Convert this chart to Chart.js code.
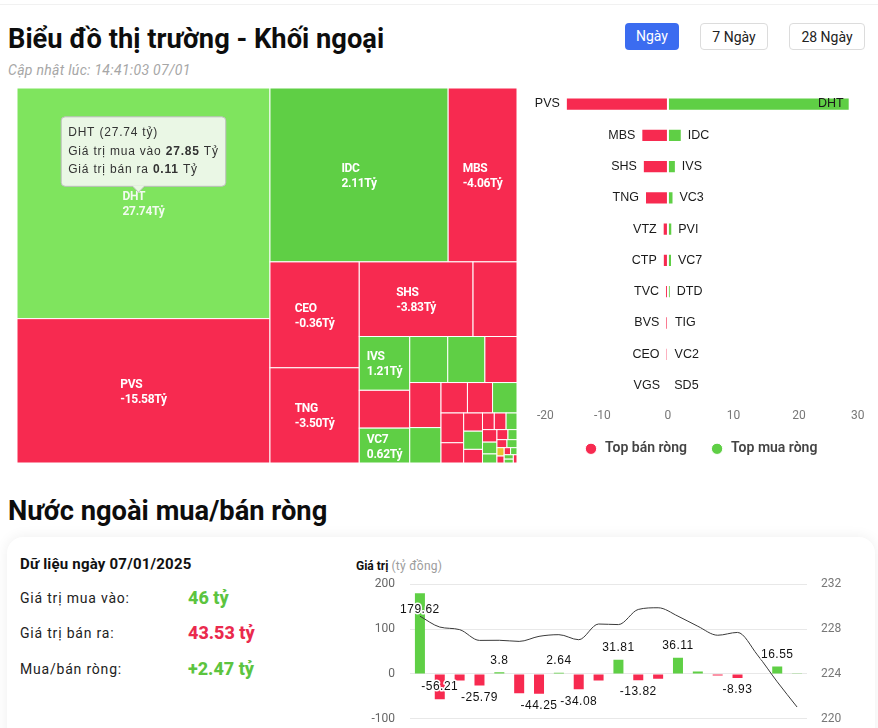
<!DOCTYPE html>
<html lang="vi">
<head>
<meta charset="utf-8">
<title>Biểu đồ thị trường - Khối ngoại</title>
<script src="https://cdn.jsdelivr.net/npm/chart.js@4.4.1/dist/chart.umd.min.js"></script>
<style>
  html, body { margin: 0; padding: 0; background: #fff; }
  body { width: 878px; height: 728px; overflow: hidden; position: relative; font-family: Roboto, "Noto Sans", sans-serif; color: #111; }
  .topline { position: absolute; left: 0; top: 4px; width: 878px; border-top: 1px solid #f1f1f1; }
  h1, h2 { position: absolute; margin: 0; left: 8px; font-size: 28px; font-weight: 700; white-space: nowrap; color: #0d0d0d; transform-origin: left top; }
  h1 { top: 22px; transform: scaleX(0.974); }
  h2 { top: 494px; transform: scaleX(0.975); }
  .updated { position: absolute; left: 8px; top: 62px; font-size: 14px; font-style: italic; color: #a6a6a6; letter-spacing: 0.3px; }
  .btn { position: absolute; top: 23px; height: 27px; line-height: 27px; text-align: center; font-size: 14px; border-radius: 4px; box-sizing: border-box; }
  .btn.on { background: #3b6cf0; color: #fff; }
  .btn.off { border: 1px solid #dcdcdc; color: #222; background: #fff; }
  .card { position: absolute; left: 7px; top: 537px; width: 868px; height: 230px; border-radius: 16px; background: #fff; box-shadow: 0 0 14px rgba(0,0,0,0.07); }
  .card .date { position: absolute; left: 13px; top: 18px; font-size: 15px; font-weight: 700; letter-spacing: 0.2px; }
  .card .lbl { position: absolute; left: 13px; font-size: 14px; color: #222; letter-spacing: 0.8px; }
  .card .val { position: absolute; left: 181px; font-size: 18px; font-weight: 800; }
  .axis-title { position: absolute; left: 356px; top: 559px; font-size: 12px; font-weight: 700; color: #111; }
  .axis-title span { font-weight: 400; color: #9c9c9c; letter-spacing: 0.3px; }
  canvas { position: absolute; }
</style>
</head>
<body>
<div class="topline"></div>
<h1>Biểu đồ thị trường - Khối ngoại</h1>
<div class="updated">Cập nhật lúc: 14:41:03 07/01</div>
<div class="btn on" style="left:625px;width:54px;">Ngày</div>
<div class="btn off" style="left:700px;width:68px;">7 Ngày</div>
<div class="btn off" style="left:789px;width:76px;">28 Ngày</div>

<canvas id="treemap" width="500" height="375" style="left:17px;top:88px;"></canvas>
<canvas id="topBars" width="358" height="392" style="left:520px;top:85px;"></canvas>

<h2>Nước ngoài mua/bán ròng</h2>
<div class="card">
  <div class="date">Dữ liệu ngày 07/01/2025</div>
  <div class="lbl" style="top:53px;">Giá trị mua vào:</div>
  <div class="val" style="top:50px;color:#5cc43f;">46 tỷ</div>
  <div class="lbl" style="top:88px;">Giá trị bán ra:</div>
  <div class="val" style="top:85px;color:#ea2a4d;">43.53 tỷ</div>
  <div class="lbl" style="top:124px;">Mua/bán ròng:</div>
  <div class="val" style="top:121px;color:#5cc43f;">+2.47 tỷ</div>
</div>
<div class="axis-title">Giá trị <span>(tỷ đồng)</span></div>
<canvas id="flowChart" width="520" height="179" style="left:340px;top:562px;"></canvas>

<script>
const RED = '#f72a50';
const GREEN = '#5fcf45';
const YELLOW = '#e8c12e';

// treemap: cell size = traded value, colour from net value ('' = name not shown)
const treeCodes = ['DHT', 'PVS', 'IDC', 'MBS', 'CEO', 'TNG', 'SHS', '', 'IVS', '', 'VC7', '', '', '', '', '', '', '', '', '', '', '', '', '', '', '', '', '', '', '', '', '', '', '', '', '', '', '', '', '', ''];
const treeSizes = [58000, 36300, 30800, 11900, 9400, 8450, 8440, 3260, 2700, 1900, 1750, 1740, 1700, 1470, 1400, 1100, 800, 760, 740, 670, 456, 340, 340, 255, 195, 195, 180, 180, 170, 130, 110, 90, 80, 80, 60, 50, 45, 45, 40, 35, 30];
const treeNet = [27.74, -15.58, 2.11, -4.06, -0.36, -3.50, -3.83, -0.8, 1.21, -0.78, 0.62, 0.85, 0.66, -0.45, -0.4, 0.43, -0.3, -0.25, 0.15, -0.2, -0.18, -0.1, 0.12, -0.08, -0.07, -0.06, 0.08, -0.05, 0.05, 0.04, -0.04, 0.03, -0.03, 0.03, 0, -0.02, -0.02, 0.02, 0.01, 0.01, -0.01];
const hoverCode = 'DHT';
const hoverBuy = 27.85;
const hoverSell = 0.11;

// top net sellers / buyers
const sellCodes = ['PVS', 'MBS', 'SHS', 'TNG', 'VTZ', 'CTP', 'TVC', 'BVS', 'CEO', 'VGS'];
const sellValues = [-15.58, -4.06, -3.83, -3.50, -0.8, -0.78, -0.45, -0.4, -0.36, -0.3];
const buyCodes = ['DHT', 'IDC', 'IVS', 'VC3', 'PVI', 'VC7', 'DTD', 'TIG', 'VC2', 'SD5'];
const buyValues = [27.74, 2.11, 1.21, 0.85, 0.66, 0.62, 0.43, 0.15, 0.1, 0.05];

// net flow per session + index line
const sessions = ['1', '2', '3', '4', '5', '6', '7', '8', '9', '10', '11', '12', '13', '14', '15', '16', '17', '18', '19', '20'];
const netFlow = [179.62, -56.21, -14.8, -25.79, 3.8, -43.1, -44.25, 2.64, -34.08, -14.6, 31.81, -13.82, -10.6, 36.11, 5.2, -3.4, -8.93, 0.9, 16.55, 0.6];
const indexLine = [229.15, 228.18, 227.95, 226.99, 227.0, 226.9, 227.35, 227.5, 227.05, 228.45, 228.4, 229.75, 229.9, 229.15, 228.25, 227.45, 227.7, 225.7, 223.3, 221.05];

function squarify(values, x0, y0, x1, y1, ratio) {
    const out = [];
    let value = values.reduce((a, b) => a + b, 0);
    let i0 = 0;
    const n = values.length;
    while (i0 < n) {
        const dx = x1 - x0, dy = y1 - y0;
        let i1 = i0;
        let sum = values[i1++], minV = sum, maxV = sum;
        const alpha = Math.max(dy / dx, dx / dy) / (value * ratio);
        let beta = sum * sum * alpha;
        let minRatio = Math.max(maxV / beta, beta / minV);
        for (; i1 < n; ++i1) {
            const v = values[i1];
            sum += v;
            minV = Math.min(minV, v);
            maxV = Math.max(maxV, v);
            beta = sum * sum * alpha;
            const r = Math.max(maxV / beta, beta / minV);
            if (r > minRatio) { sum -= v; break; }
            minRatio = r;
        }
        if (dx < dy) {
            const h = dy * sum / value;
            let x = x0;
            for (let i = i0; i < i1; i++) {
                const w = dx * values[i] / sum;
                out.push({ i: i, x0: x, y0: y0, x1: x + w, y1: y0 + h });
                x += w;
            }
            y0 += h;
        } else {
            const w = dx * sum / value;
            let y = y0;
            for (let i = i0; i < i1; i++) {
                const h = dy * values[i] / sum;
                out.push({ i: i, x0: x0, y0: y, x1: x0 + w, y1: y + h });
                y += h;
            }
            x0 += w;
        }
        value -= sum;
        i0 = i1;
    }
    return out;
}

function cellColor(i) {
    const v = treeNet[i];
    if (treeCodes[i] === hoverCode) return '#7fe45e';
    if (v > 0) return GREEN;
    if (v < 0) return RED;
    return YELLOW;
}

const treemapPlugin = {
    id: 'treemapCells',
    afterDatasetsDraw(chart) {
        const { ctx, chartArea, scales } = chart;
        const aspect = (chartArea.right - chartArea.left) / (chartArea.bottom - chartArea.top);
        const cells = squarify(treeSizes, 0, 0, aspect, 1, 1.2);
        let hoverBox = null;
        ctx.save();
        cells.forEach(c => {
            const left = scales.x.getPixelForValue(c.x0 / aspect);
            const right = scales.x.getPixelForValue(c.x1 / aspect);
            const top = scales.y.getPixelForValue(c.y0);
            const bottom = scales.y.getPixelForValue(c.y1);
            ctx.fillStyle = cellColor(c.i);
            ctx.fillRect(left, top, right - left, bottom - top);
            ctx.strokeStyle = '#ffffff';
            ctx.lineWidth = 1;
            ctx.strokeRect(left, top, right - left, bottom - top);

            const code = treeCodes[c.i];
            if (!code) return;
            const v = treeNet[c.i];
            const valText = v.toFixed(2) + 'Tỷ';
            ctx.font = 'bold 12px Roboto';
            ctx.letterSpacing = '-0.3px';
            const w = Math.max(ctx.measureText(code).width, ctx.measureText(valText).width);
            const cx = (left + right) / 2;
            const cy = (top + bottom) / 2;
            ctx.fillStyle = code === hoverCode ? '#f2fbef' : '#ffffff';
            ctx.textAlign = 'left';
            ctx.textBaseline = 'middle';
            ctx.fillText(code, cx - w / 2, cy - 6);
            ctx.fillText(valText, cx - w / 2, cy + 9);
            if (code === hoverCode) hoverBox = { x: cx, y: cy - 11, v: v };
        });

        // hover tooltip on the active cell
        if (hoverBox) {
            ctx.letterSpacing = '0.8px';
            const lines = [
                [[hoverCode + ' (' + hoverBox.v.toFixed(2) + ' tỷ)', false]],
                [['Giá trị mua vào ', false], [hoverBuy.toFixed(2), true], [' Tỷ', false]],
                [['Giá trị bán ra ', false], [hoverSell.toFixed(2), true], [' Tỷ', false]]
            ];
            const fontFor = b => (b ? 'bold ' : '') + '12px "Liberation Sans"';
            let maxW = 0;
            lines.forEach(parts => {
                let w = 0;
                parts.forEach(p => { ctx.font = fontFor(p[1]); w += ctx.measureText(p[0]).width; });
                maxW = Math.max(maxW, w);
            });
            const pad = 7, lh = 18.5;
            const bw = maxW + pad * 2;
            const bh = lines.length * lh + 14;
            const caret = 6;
            const bx = hoverBox.x - bw / 2;
            const by = hoverBox.y - caret - bh;
            const cx = hoverBox.x - 5;
            ctx.beginPath();
            ctx.roundRect(bx, by, bw, bh, 4);
            ctx.fillStyle = '#eaf7e5';
            ctx.fill();
            ctx.strokeStyle = '#bdbdbd';
            ctx.lineWidth = 1;
            ctx.stroke();
            ctx.beginPath();
            ctx.moveTo(cx - caret, by + bh - 0.5);
            ctx.lineTo(cx, by + bh + caret);
            ctx.lineTo(cx + caret, by + bh - 0.5);
            ctx.fillStyle = '#eaf7e5';
            ctx.fill();
            ctx.beginPath();
            ctx.moveTo(cx - caret, by + bh);
            ctx.lineTo(cx, by + bh + caret);
            ctx.lineTo(cx + caret, by + bh);
            ctx.stroke();
            ctx.textBaseline = 'middle';
            ctx.textAlign = 'left';
            ctx.fillStyle = '#333';
            lines.forEach((parts, li) => {
                let x = bx + pad;
                const y = by + 7 + lh * li + lh / 2;
                parts.forEach(p => {
                    ctx.font = fontFor(p[1]);
                    ctx.fillText(p[0], x, y);
                    x += ctx.measureText(p[0]).width;
                });
            });
        }
        ctx.restore();
    }
};

new Chart(document.getElementById('treemap'), {
    type: 'scatter',
    data: { datasets: [{ data: [] }] },
    options: {
        responsive: false,
        animation: false,
        layout: { padding: 0 },
        scales: {
            x: { type: 'linear', min: 0, max: 1, display: false },
            y: { type: 'linear', min: 0, max: 1, reverse: true, display: false }
        },
        plugins: { legend: { display: false }, tooltip: { enabled: false } }
    },
    plugins: [treemapPlugin]
});

// names at the ends of the bars
const barNamesPlugin = {
    id: 'barNames',
    afterDatasetsDraw(chart) {
        const { ctx } = chart;
        ctx.save();
        ctx.font = '12.5px "Liberation Sans"';
        ctx.fillStyle = '#1a1a1a';
        ctx.textBaseline = 'middle';
        const sellMeta = chart.getDatasetMeta(0);
        const buyMeta = chart.getDatasetMeta(1);
        sellMeta.data.forEach((bar, i) => {
            ctx.textAlign = 'right';
            ctx.fillText(sellCodes[i], Math.min(bar.x, bar.base) - 6, bar.y);
        });
        buyMeta.data.forEach((bar, i) => {
            const w = ctx.measureText(buyCodes[i]).width;
            const end = Math.max(bar.x, bar.base);
            if (end + 6 + w > chart.width - 2) {
                ctx.textAlign = 'right';
                ctx.fillText(buyCodes[i], end - 6, bar.y);
            } else {
                ctx.textAlign = 'left';
                ctx.fillText(buyCodes[i], end + 6, bar.y);
            }
        });
        ctx.restore();
    }
};

// move the legend a little closer to the axis labels
const legendNudge = {
    id: 'legendNudge',
    afterLayout(chart, args, opts) {
        chart.legend.top += opts.dy;
        chart.legend.bottom += opts.dy;
    }
};

new Chart(document.getElementById('topBars'), {
    type: 'bar',
    data: {
        labels: sellCodes.map((s, i) => s + '/' + buyCodes[i]),
        datasets: [
            { label: 'Top bán ròng', data: sellValues, backgroundColor: RED, borderColor: '#fff', borderWidth: 1, borderSkipped: false },
            { label: 'Top mua ròng', data: buyValues, backgroundColor: GREEN, borderColor: '#fff', borderWidth: 1, borderSkipped: false }
        ]
    },
    options: {
        indexAxis: 'y',
        responsive: false,
        animation: false,
        categoryPercentage: 0.85,
        barPercentage: 0.5,
        layout: { padding: { top: 3.4, left: 16.9, right: 13.5, bottom: 0 } },
        scales: {
            x: {
                stacked: true,
                min: -20, max: 30,
                grid: { display: false, drawTicks: false },
                border: { display: false },
                ticks: { stepSize: 10, align: 'inner', color: '#777', padding: 7.2, font: { size: 12, family: 'Roboto' } }
            },
            y: { stacked: true, display: false }
        },
        plugins: {
            legend: {
                position: 'bottom',
                labels: {
                    usePointStyle: true,
                    pointStyle: 'circle',
                    boxWidth: 14,
                    boxHeight: 8,
                    padding: 23,
                    color: '#444',
                    font: { size: 14, weight: '600', family: 'Roboto' }
                }
            },
            legendNudge: { dy: -11.2 },
            tooltip: { enabled: false }
        }
    },
    plugins: [barNamesPlugin, legendNudge]
});

// value labels on the flow bars, larger values win when labels collide
const flowLabelsPlugin = {
    id: 'flowLabels',
    afterDatasetsDraw(chart) {
        const { ctx, chartArea } = chart;
        const meta = chart.getDatasetMeta(0);
        ctx.save();
        ctx.font = '12px "Liberation Sans"';
        ctx.letterSpacing = '0.5px';
        const order = netFlow.map((v, i) => i).sort((a, b) => Math.abs(netFlow[b]) - Math.abs(netFlow[a]));
        const placed = [];
        order.forEach(i => {
            const v = netFlow[i];
            const bar = meta.data[i];
            const text = String(v);
            const w = ctx.measureText(text).width;
            const h = 12;
            const gap = 6;
            let cy;
            if (v >= 0) {
                cy = bar.y - gap - h / 2;
                if (cy - h / 2 - 4 < chartArea.top) cy = bar.y + gap + 4 + h / 2;
            } else {
                cy = bar.y + gap + h / 2;
                if (cy + h / 2 + 4 > chartArea.bottom) cy = bar.y - gap - h / 2;
            }
            const box = { l: bar.x - w / 2, r: bar.x + w / 2, t: cy - h / 2 - 4, b: cy + h / 2 + 4 };
            const hit = placed.some(p => box.l < p.r && box.r > p.l && box.t < p.b && box.b > p.t);
            if (hit) return;
            placed.push(box);
            ctx.textAlign = 'center';
            ctx.textBaseline = 'middle';
            ctx.lineWidth = 3;
            ctx.strokeStyle = '#fff';
            ctx.lineJoin = 'round';
            ctx.strokeText(text, bar.x, cy);
            ctx.fillStyle = '#111';
            ctx.fillText(text, bar.x, cy);
        });
        ctx.restore();
    }
};

new Chart(document.getElementById('flowChart'), {
    data: {
        labels: sessions,
        datasets: [
            {
                type: 'bar',
                label: 'Mua/bán ròng',
                data: netFlow,
                backgroundColor: netFlow.map(v => v >= 0 ? GREEN : RED),
                categoryPercentage: 0.8,
                barPercentage: 0.63,
                yAxisID: 'y',
                order: 2
            },
            {
                type: 'line',
                label: 'HNX-Index',
                data: indexLine,
                borderColor: '#3a3a3a',
                borderWidth: 1,
                pointRadius: 0,
                cubicInterpolationMode: 'monotone',
                yAxisID: 'y1',
                order: 1
            }
        ]
    },
    options: {
        responsive: false,
        animation: false,
        layout: { padding: { top: 8.3, bottom: 18.3, left: 0, right: 0 } },
        scales: {
            x: { display: false },
            y: {
                position: 'left',
                min: -100, max: 200,
                ticks: { stepSize: 100, color: '#666', padding: 15, font: { size: 12, family: 'Roboto' } },
                grid: { color: '#e8e8e8', drawTicks: false },
                border: { display: false },
                afterFit(scale) { scale.width = 70; }
            },
            y1: {
                position: 'right',
                min: 220, max: 232,
                ticks: { stepSize: 4, color: '#777', padding: 14, font: { size: 12, family: 'Roboto' } },
                grid: { display: false, drawTicks: false },
                border: { display: false },
                afterFit(scale) { scale.width = 53; }
            }
        },
        plugins: { legend: { display: false }, tooltip: { enabled: false } }
    },
    plugins: [flowLabelsPlugin]
});
</script>
</body>
</html>
